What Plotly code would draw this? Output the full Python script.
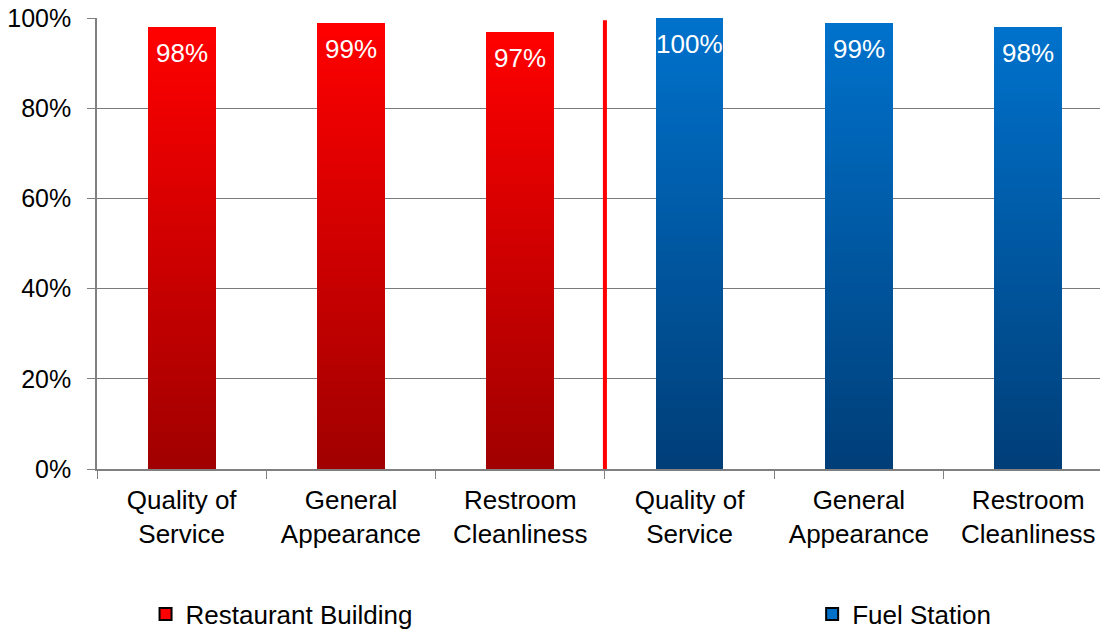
import plotly.graph_objects as go

# ---- data ----
bar_ids = ["R1", "R2", "R3", "F1", "F2", "F3"]
category_labels = ["Quality of<br>Service", "General<br>Appearance", "Restroom<br>Cleanliness",
                   "Quality of<br>Service", "General<br>Appearance", "Restroom<br>Cleanliness"]
group_of_bar = ["Restaurant Building"] * 3 + ["Fuel Station"] * 3
values = [0.98, 0.99, 0.97, 1.00, 0.99, 0.98]
value_labels = ["98%", "99%", "97%", "100%", "99%", "98%"]
y_ticks = [0, 0.2, 0.4, 0.6, 0.8, 1.0]
y_ticklabels = ["0%", "20%", "40%", "60%", "80%", "100%"]
series_names = ["Restaurant Building", "Fuel Station"]

# ---- styles ----
FONT = "Liberation Sans, Arial, sans-serif"
gradients = {
    "Restaurant Building": ((160, 0, 0), (255, 0, 0)),   # bottom, top
    "Fuel Station": ((0, 62, 120), (0, 114, 204)),
}
legend_colors = {"Restaurant Building": "#FF0000", "Fuel Station": "#0070C8"}
legend_ids = {"Restaurant Building": "legend", "Fuel Station": "legend2"}
N_SEG = 60


def lerp(c0, c1, t):
    return "rgb(%d,%d,%d)" % tuple(round(a + (b - a) * t) for a, b in zip(c0, c1))


fig = go.Figure()

# gradient bars drawn as stacked bar segments
for k in range(N_SEG):
    t = (k + 0.5) / N_SEG
    cols = [lerp(gradients[g][0], gradients[g][1], t) for g in group_of_bar]
    fig.add_trace(go.Bar(
        x=bar_ids, y=[v / N_SEG for v in values],
        marker=dict(color=cols, line=dict(width=0)),
        width=0.4, showlegend=False, hoverinfo="skip",
    ))

# value labels
for bid, v, lab in zip(bar_ids, values, value_labels):
    fig.add_annotation(x=bid, y=v, xref="x", yref="y", text=lab, showarrow=False,
                       yanchor="top", yshift=-9,
                       font=dict(family=FONT, size=26, color="white"))

# legend entries
for name in series_names:
    fig.add_trace(go.Bar(
        x=[bar_ids[0]], y=[None], name=name, legend=legend_ids[name],
        marker=dict(color=legend_colors[name], line=dict(color="black", width=2)),
        showlegend=True,
    ))

fig.add_shape(type="line", xref="x", yref="y", x0=2.5, x1=2.5, y0=0, y1=0.995,
              line=dict(color="#FF0000", width=4), layer="above")

legend_common = dict(orientation="h", xanchor="left", y=-0.3215, yanchor="middle",
                     font=dict(family=FONT, size=26, color="black"),
                     bgcolor="rgba(0,0,0,0)")

fig.update_layout(
    width=1100, height=631,
    barmode="stack", bargap=0,
    plot_bgcolor="white", paper_bgcolor="white",
    margin=dict(l=97, r=0, t=18, b=162, autoexpand=False),
    font=dict(family=FONT, size=26, color="black"),
    showlegend=True,
    legend=dict(x=0.0484, **legend_common),
    legend2=dict(x=0.713, **legend_common),
    xaxis=dict(type="category", tickmode="array", tickvals=bar_ids, ticktext=category_labels,
               tickson="boundaries", ticks="outside", ticklen=8, tickcolor="#808080",
               showline=True, linecolor="#808080", linewidth=1.5, showgrid=False,
               automargin=False, ticklabelstandoff=7,
               range=[-0.5, 5.424], tickfont=dict(family=FONT, size=26, color="black")),
    yaxis=dict(range=[0, 1], tickvals=y_ticks, ticktext=y_ticklabels,
               ticks="outside", ticklen=8, tickcolor="#808080",
               showline=True, linecolor="#808080", linewidth=1.5,
               showgrid=True, gridcolor="#7a7a7a", gridwidth=1.2,
               ticklabelstandoff=11, zeroline=False, automargin=False,
               tickfont=dict(family=FONT, size=25, color="black")),
)

fig.write_html("out.html", config={"displayModeBar": False},
               post_script="document.body.style.margin='0';")
